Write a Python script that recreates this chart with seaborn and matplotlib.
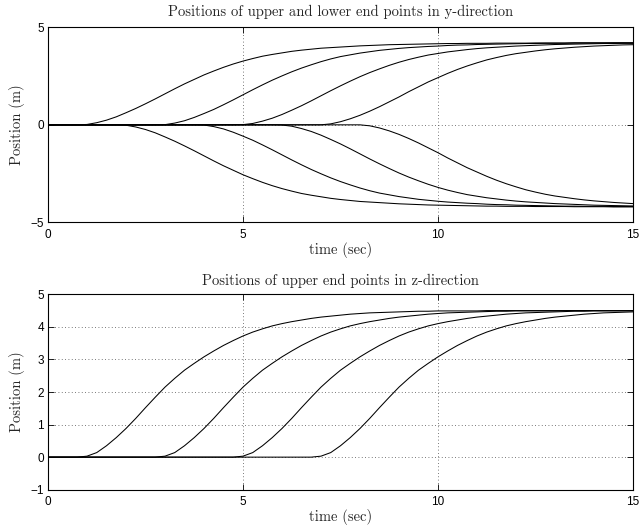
import matplotlib
matplotlib.use("Agg")
import matplotlib.pyplot as plt
import pandas as pd
import seaborn as sns

# Sample times (s), common to every trace
time_s = [0.0, 0.25, 0.5, 0.75, 1.0, 1.25, 1.5, 1.75, 2.0, 2.25, 2.5, 2.75,
          3.0, 3.25, 3.5, 3.75, 4.0, 4.25, 4.5, 4.75, 5.0, 5.25, 5.5, 5.75,
          6.0, 6.25, 6.5, 6.75, 7.0, 7.25, 7.5, 7.75, 8.0, 8.25, 8.5, 8.75,
          9.0, 9.25, 9.5, 9.75, 10.0, 10.25, 10.5, 10.75, 11.0, 11.25, 11.5, 11.75,
          12.0, 12.25, 12.5, 12.75, 13.0, 13.25, 13.5, 13.75, 14.0, 14.25, 14.5, 14.75, 15.0]

# y-direction, upper end points (m); each trace rests at 0 until it starts moving
upper_y1 = [0.0] * 4 + [
    0.02, 0.11, 0.24, 0.41, 0.62, 0.84, 1.08, 1.33, 1.59, 1.85,
    2.10, 2.33, 2.56, 2.76, 2.95, 3.12, 3.27, 3.40, 3.52, 3.61,
    3.69, 3.77, 3.83, 3.88, 3.93, 3.96, 3.99, 4.02, 4.05, 4.07,
    4.09, 4.11, 4.12, 4.13, 4.14, 4.15, 4.16, 4.17, 4.17, 4.18,
    4.18, 4.18, 4.19, 4.19, 4.19, 4.19, 4.20, 4.20, 4.20, 4.20,
    4.21, 4.21, 4.21, 4.21, 4.21, 4.21, 4.21]
upper_y2 = [0.0] * 12 + [
    0.01, 0.09, 0.21, 0.38, 0.58, 0.79, 1.03, 1.28, 1.54, 1.80,
    2.05, 2.29, 2.51, 2.72, 2.91, 3.08, 3.24, 3.38, 3.50, 3.59,
    3.68, 3.75, 3.82, 3.87, 3.92, 3.96, 3.99, 4.02, 4.04, 4.07,
    4.09, 4.10, 4.12, 4.13, 4.14, 4.15, 4.16, 4.17, 4.17, 4.18,
    4.18, 4.18, 4.19, 4.19, 4.19, 4.19, 4.20, 4.20, 4.20]
upper_y3 = [0.0] * 20 + [
    0.01, 0.07, 0.19, 0.34, 0.53, 0.75, 0.98, 1.23, 1.49, 1.75,
    2.00, 2.24, 2.47, 2.68, 2.87, 3.05, 3.21, 3.35, 3.47, 3.58,
    3.66, 3.74, 3.80, 3.86, 3.91, 3.95, 3.98, 4.01, 4.04, 4.06,
    4.08, 4.10, 4.12, 4.13, 4.14, 4.15, 4.16, 4.17, 4.17, 4.18,
    4.18]
upper_y4 = [0.0] * 28 + [
    0.00, 0.05, 0.16, 0.31, 0.49, 0.70, 0.93, 1.18, 1.43, 1.70,
    1.95, 2.20, 2.42, 2.64, 2.84, 3.02, 3.18, 3.33, 3.45, 3.56,
    3.65, 3.72, 3.79, 3.85, 3.90, 3.94, 3.98, 4.01, 4.04, 4.06,
    4.08, 4.10, 4.11]

# y-direction, lower end points (m)
lower_y1 = [0.0] * 8 + [
    -0.02, -0.11, -0.24, -0.41, -0.62, -0.84, -1.08, -1.33, -1.59, -1.85,
    -2.10, -2.33, -2.56, -2.76, -2.95, -3.12, -3.27, -3.40, -3.52, -3.61,
    -3.69, -3.77, -3.83, -3.88, -3.93, -3.96, -3.99, -4.02, -4.05, -4.07,
    -4.09, -4.11, -4.12, -4.13, -4.14, -4.15, -4.16, -4.17, -4.17, -4.18,
    -4.18, -4.18, -4.19, -4.19, -4.19, -4.19, -4.20, -4.20, -4.20, -4.20,
    -4.21, -4.21, -4.21]
lower_y2 = [0.0] * 16 + [
    -0.01, -0.09, -0.21, -0.38, -0.58, -0.79, -1.03, -1.28, -1.54, -1.80,
    -2.05, -2.29, -2.51, -2.72, -2.91, -3.08, -3.24, -3.38, -3.50, -3.59,
    -3.68, -3.75, -3.82, -3.87, -3.92, -3.96, -3.99, -4.02, -4.04, -4.07,
    -4.09, -4.10, -4.12, -4.13, -4.14, -4.15, -4.16, -4.17, -4.17, -4.18,
    -4.18, -4.18, -4.19, -4.19, -4.19]
lower_y3 = [0.0] * 24 + [
    -0.01, -0.07, -0.19, -0.34, -0.53, -0.75, -0.98, -1.23, -1.49, -1.75,
    -2.00, -2.24, -2.47, -2.68, -2.87, -3.05, -3.21, -3.35, -3.47, -3.58,
    -3.66, -3.74, -3.80, -3.86, -3.91, -3.95, -3.98, -4.01, -4.04, -4.06,
    -4.08, -4.10, -4.12, -4.13, -4.14, -4.15, -4.16]
lower_y4 = [0.0] * 32 + [
    0.00, -0.05, -0.16, -0.31, -0.49, -0.70, -0.93, -1.18, -1.43, -1.70,
    -1.95, -2.20, -2.42, -2.64, -2.84, -3.02, -3.18, -3.33, -3.45, -3.56,
    -3.65, -3.72, -3.79, -3.85, -3.90, -3.94, -3.98, -4.01, -4.04]

# z-direction, upper end points (m)
upper_z1 = [0.0] * 4 + [
    0.03, 0.14, 0.35, 0.60, 0.88, 1.19, 1.52, 1.84, 2.15, 2.42,
    2.67, 2.88, 3.08, 3.26, 3.43, 3.58, 3.72, 3.84, 3.94, 4.03,
    4.10, 4.16, 4.21, 4.26, 4.30, 4.33, 4.36, 4.39, 4.41, 4.43,
    4.44, 4.45, 4.46, 4.47, 4.48, 4.48, 4.49, 4.49, 4.49, 4.49,
    4.49, 4.50, 4.50, 4.50, 4.50, 4.50, 4.50, 4.50, 4.50, 4.50,
    4.50, 4.50, 4.50, 4.50, 4.50, 4.50, 4.50]
upper_z2 = [0.0] * 12 + [
    0.03, 0.14, 0.35, 0.60, 0.88, 1.19, 1.52, 1.84, 2.15, 2.42,
    2.67, 2.88, 3.08, 3.26, 3.43, 3.58, 3.72, 3.84, 3.94, 4.03,
    4.10, 4.16, 4.21, 4.26, 4.30, 4.33, 4.36, 4.39, 4.41, 4.43,
    4.44, 4.45, 4.46, 4.47, 4.48, 4.48, 4.49, 4.49, 4.49, 4.49,
    4.49, 4.50, 4.50, 4.50, 4.50, 4.50, 4.50, 4.50, 4.50]
upper_z3 = [0.0] * 20 + [
    0.03, 0.14, 0.35, 0.60, 0.88, 1.19, 1.52, 1.84, 2.15, 2.42,
    2.67, 2.88, 3.08, 3.26, 3.43, 3.58, 3.72, 3.84, 3.94, 4.03,
    4.10, 4.16, 4.21, 4.26, 4.30, 4.33, 4.36, 4.39, 4.41, 4.43,
    4.44, 4.45, 4.46, 4.47, 4.48, 4.48, 4.49, 4.49, 4.49, 4.49,
    4.49]
upper_z4 = [0.0] * 28 + [
    0.03, 0.14, 0.35, 0.60, 0.88, 1.19, 1.52, 1.84, 2.15, 2.42,
    2.67, 2.88, 3.08, 3.26, 3.43, 3.58, 3.72, 3.84, 3.94, 4.03,
    4.10, 4.16, 4.21, 4.26, 4.30, 4.33, 4.36, 4.39, 4.41, 4.43,
    4.44, 4.45, 4.46]

x_ticks = [0, 5, 10, 15]
y_ticks_top = [-5, 0, 5]
y_ticks_bottom = [-1, 0, 1, 2, 3, 4, 5]

title_top = "Positions of upper and lower end points in y-direction"
title_bottom = "Positions of upper end points in z-direction"
x_label = "time (sec)"
y_label = "Position (m)"


def long_frame(series):
    parts = []
    for name, vals in series.items():
        assert len(vals) == len(time_s), name
        parts.append(pd.DataFrame({"time": time_s, "position": vals, "curve": name}))
    return pd.concat(parts, ignore_index=True)


y_frame = long_frame({"u1": upper_y1, "u2": upper_y2, "u3": upper_y3, "u4": upper_y4,
                      "l1": lower_y1, "l2": lower_y2, "l3": lower_y3, "l4": lower_y4})
z_frame = long_frame({"u1": upper_z1, "u2": upper_z2, "u3": upper_z3, "u4": upper_z4})

sns.set_theme(style="ticks")
plt.rcParams["axes.unicode_minus"] = True

SERIF = "cmr10"
SANS = "Liberation Sans"

fig = plt.figure(figsize=(6.41, 5.32), dpi=100)
ax_top = fig.add_axes([0.0749, 0.5821, 0.9126, 0.3665])
ax_bot = fig.add_axes([0.0749, 0.0795, 0.9126, 0.3673])

for ax, frame, yticks, title, tpad in ((ax_top, y_frame, y_ticks_top, title_top, 8.5),
                                       (ax_bot, z_frame, y_ticks_bottom, title_bottom, 7)):
    sns.lineplot(data=frame, x="time", y="position", units="curve", estimator=None,
                 color="black", linewidth=0.75, ax=ax, legend=False)
    ax.set_xlim(x_ticks[0], x_ticks[-1])
    ax.set_ylim(yticks[0], yticks[-1])
    ax.set_xticks(x_ticks)
    ax.set_yticks(yticks)
    ax.set_facecolor("white")
    ax.grid(True, linestyle=(0, (1, 3)), color="0.3", linewidth=0.6)
    ax.set_axisbelow(True)
    for sp in ax.spines.values():
        sp.set_visible(True)
        sp.set_color("black")
        sp.set_linewidth(0.8)
    ax.tick_params(direction="in", top=True, right=True, length=4.2, width=0.6,
                   labelsize=8.5, colors="black")
    ax.tick_params(axis="x", pad=4.5)
    ax.tick_params(axis="y", pad=3)
    for lbl in ax.get_xticklabels() + ax.get_yticklabels():
        lbl.set_fontfamily(SANS)
    ax.set_title(title, fontfamily=SERIF, fontsize=10.5, pad=tpad)
    ax.set_xlabel(x_label, fontfamily=SERIF, fontsize=10.5, labelpad=1)
    ax.set_ylabel(y_label, fontfamily=SERIF, fontsize=10.5, labelpad=3.5)

fig.savefig("out.png", dpi=100, facecolor="white")
